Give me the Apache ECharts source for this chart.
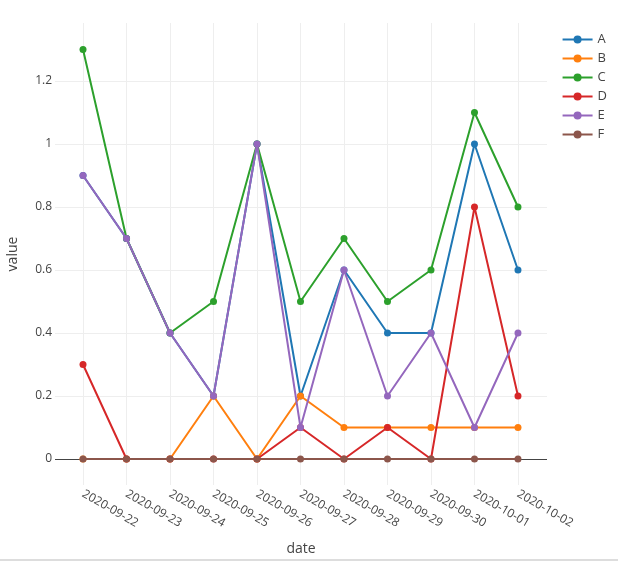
<!DOCTYPE html>
<html>
<head>
<meta charset="utf-8">
<script src="https://cdn.jsdelivr.net/npm/echarts@6/dist/echarts.min.js"></script>
<style>
html,body{margin:0;padding:0;background:#fff;}
#chart{width:618px;height:562px;}
</style>
</head>
<body>
<div id="chart"></div>
<script>
const dates = ['2020-09-22','2020-09-23','2020-09-24','2020-09-25','2020-09-26','2020-09-27','2020-09-28','2020-09-29','2020-09-30','2020-10-01','2020-10-02'];
const seriesNames = ['A','B','C','D','E','F'];
const A = [0.9, 0.7, 0.4, 0.2, 1.0, 0.2, 0.6, 0.4, 0.4, 1.0, 0.6];
const B = [0, 0, 0, 0.2, 0, 0.2, 0.1, 0.1, 0.1, 0.1, 0.1];
const C = [1.3, 0.7, 0.4, 0.5, 1.0, 0.5, 0.7, 0.5, 0.6, 1.1, 0.8];
const D = [0.3, 0, 0, 0, 0, 0.1, 0, 0.1, 0, 0.8, 0.2];
const E = [0.9, 0.7, 0.4, 0.2, 1.0, 0.1, 0.6, 0.2, 0.4, 0.1, 0.4];
const F = [0, 0, 0, 0, 0, 0, 0, 0, 0, 0, 0];
const yTicks = [0, 0.2, 0.4, 0.6, 0.8, 1, 1.2];
const colors = ['#1f77b4','#ff7f0e','#2ca02c','#d62728','#9467bd','#8c564b'];

const values = [A, B, C, D, E, F];
const xIdx = dates.map((d, i) => i);
const font = '"Open Sans", verdana, arial, sans-serif';

const series = seriesNames.map((name, k) => ({
  name: name,
  type: 'line',
  data: values[k].map((v, i) => [i, v]),
  symbol: 'circle',
  symbolSize: 7,
  lineStyle: { width: 2, color: colors[k] },
  itemStyle: { color: colors[k] },
  z: 2 + k,
  animation: false,
  markLine: k === 0 ? {
    silent: true,
    symbol: 'none',
    label: { show: false },
    lineStyle: { color: '#444', width: 1, type: 'solid' },
    data: [{ yAxis: 0 }],
    z: 1
  } : undefined
}));

const chart = echarts.init(document.getElementById('chart'), null, { renderer: 'canvas' });
chart.setOption({
  animation: false,
  color: colors,
  grid: { left: 55, right: 71, top: 23, bottom: 77, containLabel: false, outerBoundsMode: 'none' },
  legend: {
    right: 6, top: 28, orient: 'vertical',
    itemWidth: 30, itemHeight: 10, itemGap: 6,
    textStyle: { fontFamily: font, fontSize: 13, color: '#444' },
    data: seriesNames
  },
  xAxis: {
    type: 'value',
    min: -0.644, max: 10.667,
    name: 'date', nameLocation: 'middle', nameGap: 57,
    nameTextStyle: { fontFamily: font, fontSize: 14, color: '#444' },
    axisLine: { show: false },
    axisTick: { show: false, customValues: xIdx },
    splitLine: { show: true, lineStyle: { color: '#eee', width: 1 } },
    axisLabel: {
      customValues: xIdx,
      rotate: -30, margin: 8,
      fontFamily: font, fontSize: 12, color: '#444',
      formatter: v => dates[Math.round(v)]
    }
  },
  yAxis: {
    type: 'value',
    min: -0.0825, max: 1.384,
    name: 'value', nameLocation: 'middle', nameGap: 35,
    nameTextStyle: { fontFamily: font, fontSize: 14, color: '#444' },
    axisLine: { show: false },
    axisTick: { show: false, customValues: yTicks },
    splitLine: { show: true, lineStyle: { color: '#eee', width: 1 } },
    axisLabel: {
      customValues: yTicks,
      margin: 3,
      fontFamily: font, fontSize: 12, color: '#444'
    }
  },
  graphic: [{
    type: 'rect', shape: { x: 0, y: 559, width: 618, height: 2 },
    style: { fill: '#ddd' }, silent: true
  }],
  series: series
});
</script>
</body>
</html>
